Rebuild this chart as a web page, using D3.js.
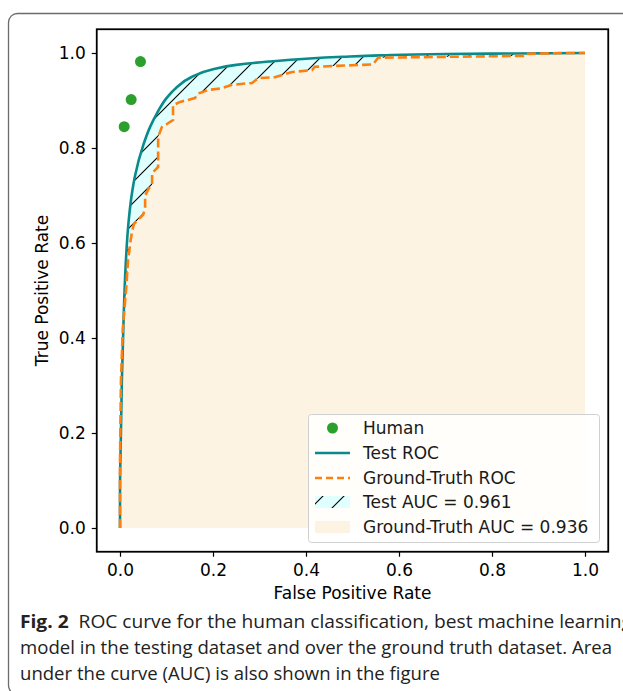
<!DOCTYPE html>
<html>
<head>
<meta charset="utf-8">
<script src="https://cdn.jsdelivr.net/npm/d3@7"></script>
<style>
  html, body { margin: 0; padding: 0; background: #fff; }
  svg { display: block; }
</style>
</head>
<body>
<svg id="chart" width="623" height="691"></svg>
<script>
// ---------------- data ----------------
const testFpr = [0, 0.0, 0.002, 0.004, 0.008, 0.012, 0.018, 0.025, 0.032, 0.05, 0.065, 0.08, 0.1, 0.12, 0.155, 0.2, 0.25, 0.32, 0.4, 0.48, 0.56, 0.7, 0.85, 1.0];
const testTpr = [0, 0.08, 0.2, 0.31, 0.45, 0.55, 0.64, 0.70, 0.74, 0.806, 0.845, 0.874, 0.905, 0.926, 0.95, 0.966, 0.975, 0.982, 0.988, 0.992, 0.995, 0.998, 0.999, 1.0];

const gtFpr = [0, 0, 0.002, 0.006, 0.013, 0.017, 0.022, 0.026, 0.03, 0.04, 0.05, 0.054, 0.054, 0.062, 0.069, 0.069, 0.082, 0.082, 0.09, 0.1, 0.114, 0.114, 0.129, 0.161, 0.17, 0.189, 0.219, 0.241, 0.284, 0.297, 0.333, 0.37, 0.413, 0.419, 0.544, 0.555, 0.867, 0.87, 0.953, 1.0];
const gtTpr = [0, 0.14, 0.31, 0.42, 0.5, 0.56, 0.6, 0.625, 0.64, 0.65, 0.66, 0.675, 0.7, 0.715, 0.722, 0.747, 0.76, 0.823, 0.844, 0.85, 0.859, 0.89, 0.897, 0.905, 0.915, 0.922, 0.926, 0.933, 0.937, 0.947, 0.949, 0.96, 0.964, 0.971, 0.976, 0.99, 0.994, 0.998, 1.0, 1.0];

const humanFpr = [0.044, 0.024, 0.009];
const humanTpr = [0.982, 0.902, 0.845];

const xTicks = [0.0, 0.2, 0.4, 0.6, 0.8, 1.0];
const yTicks = [0.0, 0.2, 0.4, 0.6, 0.8, 1.0];

const legendLabels = ["Human", "Test ROC", "Ground-Truth ROC", "Test AUC = 0.961", "Ground-Truth AUC = 0.936"];

const captionLines = [
  {bold: "Fig. 2", text: "  ROC curve for the human classification, best machine learning"},
  {bold: "", text: "model in the testing dataset and over the ground truth dataset. Area"},
  {bold: "", text: "under the curve (AUC) is also shown in the figure"}
];

// ---------------- drawing ----------------
const svg = d3.select("#chart");
const FONT = "DejaVu Sans, sans-serif";
const FS = 17;

const x = d3.scaleLinear().domain([-0.05, 1.05]).range([96.75, 608.25]);
const y = d3.scaleLinear().domain([-0.05, 1.05]).range([551.75, 29.25]);

// outer figure frame
svg.append("rect")
  .attr("x", 8.5).attr("y", 13.5).attr("width", 800).attr("height", 681)
  .attr("rx", 9).attr("ry", 9)
  .attr("fill", "none").attr("stroke", "#6b6b6b").attr("stroke-width", 1.3);

// hatch pattern
const defs = svg.append("defs");
const P = 21;
const pat = defs.append("pattern").attr("id", "hatch")
  .attr("patternUnits", "userSpaceOnUse").attr("width", P).attr("height", P);
pat.append("rect").attr("width", P).attr("height", P).attr("fill", "#e0ffff");
pat.append("path")
  .attr("d", `M0,${P} L${P},0 M${-P/2},${P/2} L${P/2},${-P/2} M${P/2},${P*1.5} L${P*1.5},${P/2}`)
  .attr("stroke", "#000").attr("stroke-width", 1.1);

defs.append("clipPath").attr("id", "plotclip").append("rect")
  .attr("x", x(-0.05)).attr("y", y(1.05)).attr("width", x(1.05) - x(-0.05)).attr("height", y(-0.05) - y(1.05));

const testData = testFpr.map((d, i) => [d, testTpr[i]]);
const gtData = gtFpr.map((d, i) => [d, gtTpr[i]]);

const g = svg.append("g").attr("clip-path", "url(#plotclip)");

// test AUC area (hatched)
g.append("path").datum(testData)
  .attr("d", d3.area().x(d => x(d[0])).y0(y(0)).y1(d => y(d[1])).curve(d3.curveMonotoneY))
  .attr("fill", "url(#hatch)");

// ground-truth AUC area
g.append("path").datum(gtData)
  .attr("d", d3.area().x(d => x(d[0])).y0(y(0)).y1(d => y(d[1])))
  .attr("fill", "#fcf3e3");

// test ROC line
g.append("path").datum(testData)
  .attr("d", d3.line().x(d => x(d[0])).y(d => y(d[1])).curve(d3.curveMonotoneY))
  .attr("fill", "none").attr("stroke", "#0a8a8a").attr("stroke-width", 2.6);

// ground-truth ROC line
g.append("path").datum(gtData)
  .attr("d", d3.line().x(d => x(d[0])).y(d => y(d[1])))
  .attr("fill", "none").attr("stroke", "#ff7f0e").attr("stroke-width", 2.6)
  .attr("stroke-dasharray", "9,4");

// human points
g.selectAll("circle.human").data(humanFpr).enter().append("circle")
  .attr("class", "human")
  .attr("cx", d => x(d)).attr("cy", (d, i) => y(humanTpr[i])).attr("r", 5.5)
  .attr("fill", "#2ca02c");

// axes
const xAxis = svg.append("g").attr("transform", `translate(0,${y(-0.05)})`)
  .call(d3.axisBottom(x).tickValues(xTicks).tickFormat(d3.format(".1f")).tickSize(5).tickPadding(7));
const yAxis = svg.append("g").attr("transform", `translate(${x(-0.05)},0)`)
  .call(d3.axisLeft(y).tickValues(yTicks).tickFormat(d3.format(".1f")).tickSize(5).tickPadding(6));
[xAxis, yAxis].forEach(a => {
  a.select(".domain").remove();
  a.selectAll(".tick line").attr("stroke", "#000").attr("stroke-width", 1.2);
  a.selectAll(".tick text").attr("font-family", FONT).attr("font-size", FS).attr("fill", "#000");
});

// frame box
svg.append("rect")
  .attr("x", x(-0.05)).attr("y", y(1.05)).attr("width", x(1.05) - x(-0.05)).attr("height", y(-0.05) - y(1.05))
  .attr("fill", "none").attr("stroke", "#000").attr("stroke-width", 1.8);

// axis labels
svg.append("text").attr("x", (x(-0.05) + x(1.05)) / 2).attr("y", 599)
  .attr("text-anchor", "middle").attr("font-family", FONT).attr("font-size", FS)
  .text("False Positive Rate");
svg.append("text")
  .attr("transform", `translate(48,${(y(-0.05) + y(1.05)) / 2}) rotate(-90)`)
  .attr("text-anchor", "middle").attr("font-family", FONT).attr("font-size", FS)
  .text("True Positive Rate");

// legend
const lg = svg.append("g");
lg.append("rect").attr("x", 308.5).attr("y", 414.5).attr("width", 291).attr("height", 128)
  .attr("rx", 3).attr("fill", "#fff").attr("fill-opacity", 0.85)
  .attr("stroke", "#d0d0d0").attr("stroke-width", 1);
const rowY = [428, 453, 478, 502, 527];
const hx0 = 315, hx1 = 350;
lg.append("circle").attr("cx", (hx0 + hx1) / 2).attr("cy", rowY[0]).attr("r", 5.5).attr("fill", "#2ca02c");
lg.append("line").attr("x1", hx0).attr("x2", hx1).attr("y1", rowY[1]).attr("y2", rowY[1])
  .attr("stroke", "#0a8a8a").attr("stroke-width", 2.6);
lg.append("line").attr("x1", hx0).attr("x2", hx1).attr("y1", rowY[2]).attr("y2", rowY[2])
  .attr("stroke", "#ff7f0e").attr("stroke-width", 2.6).attr("stroke-dasharray", "7,4");
lg.append("rect").attr("x", hx0).attr("y", rowY[3] - 6).attr("width", hx1 - hx0).attr("height", 12)
  .attr("fill", "url(#hatch)");
lg.append("rect").attr("x", hx0).attr("y", rowY[4] - 6).attr("width", hx1 - hx0).attr("height", 12)
  .attr("fill", "#fcf3e3");
lg.selectAll("text.lab").data(legendLabels).enter().append("text")
  .attr("class", "lab")
  .attr("x", 363).attr("y", (d, i) => rowY[i]).attr("dy", "0.35em")
  .attr("font-family", FONT).attr("font-size", FS).attr("fill", "#1a1a1a")
  .text(d => d);

// caption
const capBase = [628, 654, 680];
const capLen = [612, 592, 420];
captionLines.forEach((c, i) => {
  const t = svg.append("text").attr("x", 20).attr("y", capBase[i])
    .attr("font-family", "Open Sans, Noto Sans, sans-serif").attr("font-size", 17.5)
    .attr("fill", "#222")
    .attr("textLength", capLen[i]).attr("lengthAdjust", "spacingAndGlyphs");
  if (c.bold) t.append("tspan").attr("font-weight", "bold").text(c.bold);
  t.append("tspan").attr("xml:space", "preserve").style("white-space", "pre").text(c.text);
});
</script>
</body>
</html>
